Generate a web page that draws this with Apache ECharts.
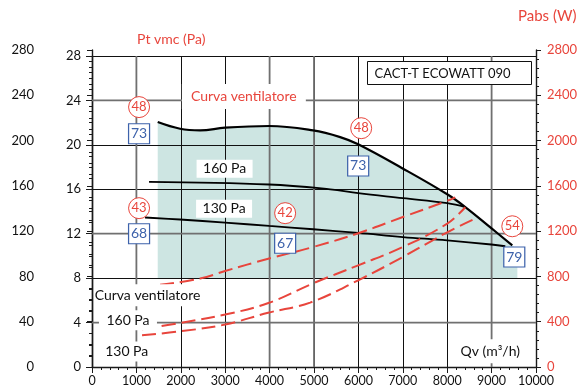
<!DOCTYPE html>
<html>
<head>
<meta charset="utf-8">
<script src="https://cdn.jsdelivr.net/npm/echarts@6/dist/echarts.min.js"></script>
<style>
html, body { margin: 0; padding: 0; background: #fff; }
#chart { width: 585px; height: 390px; }
</style>
</head>
<body>
<div id="chart"></div>
<script>
// portata (m3/h) e pressione (Pa) delle curve
var fanQ = [1480, 1983, 2434, 2998, 3989, 4981, 5590, 5995, 6987, 8001, 8407, 8993, 9466];
var fanPt = [22.05, 21.45, 21.3, 21.55, 21.7, 21.3, 20.7, 20.05, 17.9, 15.55, 14.4, 12.5, 10.95];
var q160 = [1285, 3989, 5364, 5995, 7002, 8001, 8407];
var pt160 = [16.67, 16.43, 16.0, 15.65, 15.2, 14.75, 14.4];
var q130 = [1195, 1983, 2998, 3989, 4981, 5995, 7002, 8001, 8993, 9308];
var pt130 = [13.46, 13.28, 13.0, 12.7, 12.4, 12.07, 11.7, 11.4, 11.03, 10.87];

// potenza assorbita (W)
var qPabsFan = [1533, 2434, 2998, 3989, 4981, 5995, 7002, 8001, 8181];
var pabsFan = [726, 781, 848, 958, 1060, 1181, 1325, 1468, 1499];
var qPabs160 = [1127, 1983, 2998, 3989, 4981, 5995, 7002, 8001, 8407];
var pabs160 = [333, 389, 463, 567, 739, 898, 1060, 1267, 1411];
var qPabs130 = [1127, 1983, 2998, 3967, 4913, 5995, 7002, 8001, 8633];
var pabs130 = [280, 315, 375, 479, 569, 766, 972, 1190, 1311];

// zona di lavoro
var shadeQ = [1480, 9580];
var shadeBase = 8;
var shadeTopRight = 10.6;

// etichette
var circleTxt = ['48', '43', '42', '48', '54'];
var circleQ = [1060, 1060, 4350, 6063, 9466];
var circlePt = [23.4, 14.3, 13.85, 21.5, 12.67];
var boxTxt = ['73', '68', '67', '73', '79'];
var boxQ = [1060, 1060, 4350, 5995, 9511];
var boxPt = [21.0, 12.0, 11.14, 18.1, 9.9];
var noteTxt = ['Curva ventilatore', '160 Pa', '130 Pa', 'Curva ventilatore', '160 Pa', '130 Pa', 'Qv (m³/h)'];
var noteQ = [3420, 2986, 2975, 1251, 810, 782, 8970];
var notePt = [24.35, 17.86, 14.25, 6.46, 4.2, 1.39, 1.41];
var noteRed = [true, false, false, false, false, false, false];

var qTicks = [0, 10000, 1000];
var ptTicks = [0, 28, 4];
var leftTicks = [0, 280, 40];
var pabsTicks = [0, 2800, 400];
var greyQ = [1000, 4000, 5000, 9000];
var greyPt = [24, 12, 4];

var RED = '#e8453c';
var BLUE = '#3d62ab';
var GREY = '#707070';
var FONT = 'Lato';
// fondo bianco dietro ai testi
var noteBox = [[124, 25], [56, 18], [56, 18], [104, 22], [58, 20], [50, 20], [72, 24]];

function zip(a, b) {
    return a.map(function (v, i) { return [v, b[i]]; });
}
function plain(v) { return String(v); }

var shadeData = [[shadeQ[0], shadeBase]]
    .concat(zip(fanQ, fanPt))
    .concat([[shadeQ[1], shadeTopRight], [shadeQ[1], shadeBase]]);

// linee grigie: terzo valore 0 = verticale, 1 = orizzontale
var greyData = greyQ.map(function (v) { return [v, 0, 0]; })
    .concat(greyPt.map(function (v) { return [0, v, 1]; }));

var chart = echarts.init(document.getElementById('chart'));

var axisLine = { show: true, lineStyle: { color: '#1a1a1a', width: 1.4 } };

var option = {
    animation: false,
    grid: [
        { left: 92, right: 49, top: 56, bottom: 23 },
        { left: 92, right: 49, top: 50, bottom: 23 }
    ],
    xAxis: [
        {
            type: 'value', gridIndex: 0, z: 1,
            min: qTicks[0], max: qTicks[1], interval: qTicks[2],
            axisLine: axisLine,
            axisTick: { show: true, length: 6, lineStyle: { color: '#1a1a1a' } },
            minorTick: { show: true, splitNumber: 5, length: 3, lineStyle: { color: '#1a1a1a' } },
            axisLabel: { color: '#111', fontFamily: FONT, fontSize: 12.5, margin: 7, formatter: plain },
            splitLine: { show: true, lineStyle: { color: '#111', width: 1 } }
        },
        {
            type: 'value', gridIndex: 1, show: false,
            min: qTicks[0], max: qTicks[1]
        }
    ],
    yAxis: [
        {
            type: 'value', gridIndex: 0, position: 'left', z: 1,
            min: ptTicks[0], max: ptTicks[1], interval: ptTicks[2],
            axisLine: axisLine,
            axisTick: { show: true, length: 6, lineStyle: { color: '#1a1a1a' } },
            minorTick: { show: true, splitNumber: 4, length: 3, lineStyle: { color: '#1a1a1a' } },
            axisLabel: { color: '#111', fontFamily: FONT, fontSize: 13, margin: 11, formatter: plain },
            splitLine: { show: true, lineStyle: { color: '#111', width: 1 } }
        },
        {
            type: 'value', gridIndex: 1, position: 'left', offset: 47, z: 1,
            min: leftTicks[0], max: leftTicks[1], interval: leftTicks[2],
            axisLine: axisLine,
            axisTick: { show: true, length: 5, lineStyle: { color: '#1a1a1a' } },
            minorTick: { show: true, splitNumber: 4, length: 3, lineStyle: { color: '#1a1a1a' } },
            axisLabel: { color: '#111', fontFamily: FONT, fontSize: 13, margin: 11, formatter: plain },
            splitLine: { show: false }
        },
        {
            type: 'value', gridIndex: 1, position: 'right', z: 1,
            min: pabsTicks[0], max: pabsTicks[1], interval: pabsTicks[2],
            axisLine: axisLine,
            axisTick: { show: true, length: 5, lineStyle: { color: '#1a1a1a' } },
            minorTick: { show: true, splitNumber: 5, length: 3, lineStyle: { color: '#1a1a1a' } },
            axisLabel: { color: RED, fontFamily: FONT, fontSize: 13, margin: 11, formatter: plain },
            splitLine: { show: false }
        }
    ],
    graphic: [
        {
            type: 'text', left: 137, top: 32, z: 20,
            style: { text: 'Pt vmc (Pa)', fill: RED, font: '14px Lato' }
        },
        {
            type: 'text', left: 518, top: 9, z: 20,
            style: { text: 'Pabs (W)', fill: RED, font: '15px Lato' }
        },
        {
            type: 'group', left: 367, top: 61, z: 20,
            children: [
                {
                    type: 'rect', z: 20,
                    shape: { x: 0, y: 0, width: 164, height: 23 },
                    style: { fill: '#fff', stroke: '#111', lineWidth: 1 }
                },
                {
                    type: 'text', z: 21, x: 7, y: 12,
                    style: { text: 'CACT-T ECOWATT 090', fill: '#111', font: '13px Lato', verticalAlign: 'middle' }
                }
            ]
        }
    ],
    series: [
        {
            // area di funzionamento
            type: 'custom', z: 0, silent: true,
            xAxisIndex: 0, yAxisIndex: 0,
            data: shadeData,
            renderItem: function (params, api) {
                if (params.dataIndex !== 0) return;
                var pts = shadeData.map(function (p) { return api.coord(p); });
                return { type: 'polygon', shape: { points: pts }, style: { fill: '#cde5e2' } };
            }
        },
        {
            // linee di griglia grigie
            type: 'custom', z: 2, silent: true,
            xAxisIndex: 0, yAxisIndex: 0,
            data: greyData,
            renderItem: function (params, api) {
                var a, b;
                if (api.value(2) === 0) {
                    a = api.coord([api.value(0), ptTicks[0]]);
                    b = api.coord([api.value(0), ptTicks[1]]);
                } else {
                    a = api.coord([qTicks[0], api.value(1)]);
                    b = api.coord([qTicks[1], api.value(1)]);
                }
                return {
                    type: 'line',
                    shape: { x1: a[0], y1: a[1], x2: b[0], y2: b[1] },
                    style: { stroke: GREY, lineWidth: 1.8 }
                };
            }
        },
        {
            name: 'Curva ventilatore', type: 'line', z: 3,
            xAxisIndex: 0, yAxisIndex: 0,
            data: zip(fanQ, fanPt), smooth: 0.4, showSymbol: false,
            lineStyle: { color: '#000', width: 2.2 }
        },
        {
            name: '160 Pa', type: 'line', z: 3,
            xAxisIndex: 0, yAxisIndex: 0,
            data: zip(q160, pt160), smooth: 0.4, showSymbol: false,
            lineStyle: { color: '#000', width: 1.8 }
        },
        {
            name: '130 Pa', type: 'line', z: 3,
            xAxisIndex: 0, yAxisIndex: 0,
            data: zip(q130, pt130), smooth: 0.4, showSymbol: false,
            lineStyle: { color: '#000', width: 1.8 }
        },
        {
            name: 'Pabs ventilatore', type: 'line', z: 3,
            xAxisIndex: 1, yAxisIndex: 2,
            data: zip(qPabsFan, pabsFan), smooth: 0.4, showSymbol: false,
            lineStyle: { color: RED, width: 2, type: [14, 6] }
        },
        {
            name: 'Pabs 160 Pa', type: 'line', z: 3,
            xAxisIndex: 1, yAxisIndex: 2,
            data: zip(qPabs160, pabs160), smooth: 0.4, showSymbol: false,
            lineStyle: { color: RED, width: 2, type: [14, 6] }
        },
        {
            name: 'Pabs 130 Pa', type: 'line', z: 3,
            xAxisIndex: 1, yAxisIndex: 2,
            data: zip(qPabs130, pabs130), smooth: 0.4, showSymbol: false,
            lineStyle: { color: RED, width: 2, type: [14, 6] }
        },
        {
            // cerchi rossi
            type: 'scatter', z: 10, silent: true,
            xAxisIndex: 0, yAxisIndex: 0,
            symbol: 'circle', symbolSize: 21,
            itemStyle: { color: '#fff', borderColor: RED, borderWidth: 1, opacity: 1 },
            label: {
                show: true, position: 'inside', color: RED, fontFamily: FONT, fontSize: 13,
                formatter: function (p) { return circleTxt[p.dataIndex]; }
            },
            data: zip(circleQ, circlePt)
        },
        {
            // riquadri blu
            type: 'scatter', z: 10, silent: true,
            xAxisIndex: 0, yAxisIndex: 0,
            symbol: 'rect', symbolSize: [21, 20],
            itemStyle: { color: '#fff', borderColor: BLUE, borderWidth: 1.2, opacity: 1 },
            label: {
                show: true, position: 'inside', color: BLUE, fontFamily: FONT, fontSize: 14,
                formatter: function (p) { return boxTxt[p.dataIndex]; }
            },
            data: zip(boxQ, boxPt)
        },
        {
            // testi su fondo bianco
            type: 'scatter', z: 11, silent: true,
            xAxisIndex: 0, yAxisIndex: 0,
            symbol: 'rect',
            itemStyle: { color: '#fff', opacity: 1 },
            data: noteQ.map(function (q, i) {
                return {
                    value: [q, notePt[i]],
                    symbolSize: noteBox[i],
                    label: {
                        show: true, position: 'inside',
                        formatter: noteTxt[i],
                        color: noteRed[i] ? RED : '#111',
                        fontFamily: FONT, fontSize: 14
                    }
                };
            })
        }
    ]
};

chart.setOption(option);
</script>
</body>
</html>
